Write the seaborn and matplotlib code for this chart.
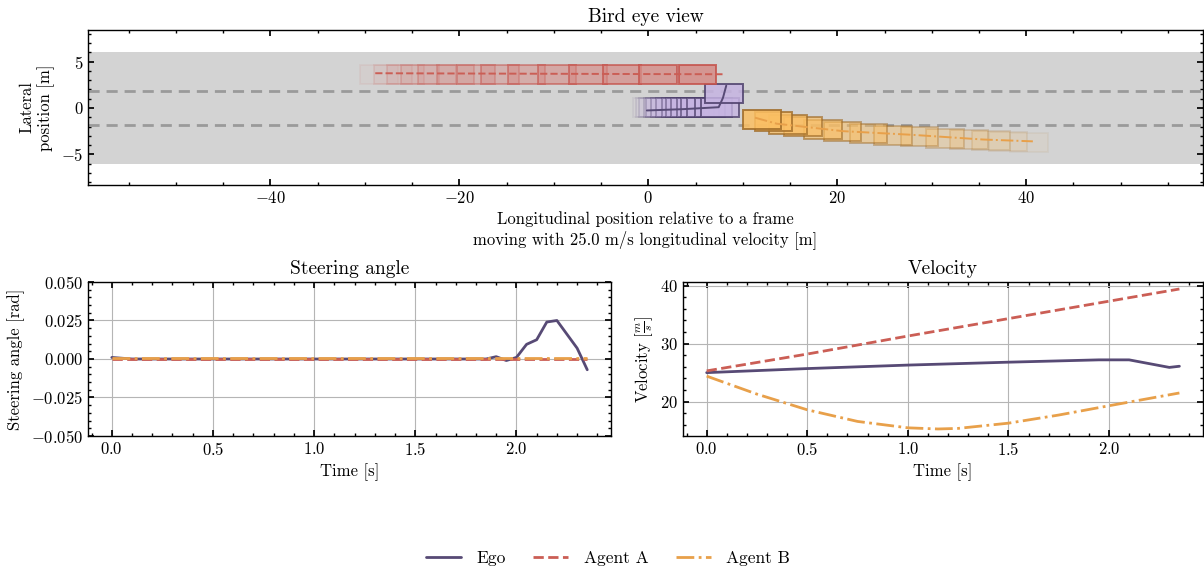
import numpy as np
import pandas as pd
import matplotlib
matplotlib.use("Agg")
import matplotlib.pyplot as plt
from matplotlib.patches import Rectangle
from matplotlib.lines import Line2D
import seaborn as sns

# ---- data ----
AGENTS = ["Ego", "Agent A", "Agent B"]
COLORS = {"Ego": "#574a75", "Agent A": "#cb5e55", "Agent B": "#e8a04a"}
FACES = {"Ego": "#c6b4e2", "Agent A": "#d58c87", "Agent B": "#fbbf63"}
EDGES = {"Ego": "#4e406c", "Agent A": "#c5524b", "Agent B": "#a06c28"}
STYLES = {"Ego": "-", "Agent A": "--", "Agent B": "-."}

# bird eye view: box centres (oldest -> newest) and trajectory lines
ego_box_x = [0.4, 0.7, 1.05, 1.5, 1.8, 2.3, 2.8, 3.4, 3.9, 4.4, 5.0, 5.5, 6.1, 6.9, 7.6, 8.0]
ego_box_y = [0.05, 0.05, 0.05, 0.05, 0.05, 0.05, 0.05, 0.05, 0.05, 0.05, 0.05, 0.05, 0.05, 0.05, 0.05, 1.55]
a_box_x = [-28.5, -27.0, -25.7, -24.2, -22.4, -20.4, -18.2, -15.7, -12.9, -9.7, -6.4, -2.8, 1.0, 5.2]
a_box_y = [3.6, 3.6, 3.6, 3.6, 3.6, 3.6, 3.6, 3.6, 3.6, 3.6, 3.6, 3.6, 3.6, 3.6]
b_box_x = [40.3, 38.1, 36.25, 33.95, 31.4, 28.7, 25.9, 23.3, 20.55, 18.45, 16.4, 14.75, 13.25, 12.05]
b_box_y = [-3.7, -3.6, -3.5, -3.4, -3.25, -3.1, -2.95, -2.75, -2.5, -2.3, -2.05, -1.8, -1.5, -1.25]

ego_path_x = [-0.15, 3.7, 7.45, 7.9, 8.25]
ego_path_y = [-0.27, -0.13, 0.08, 1.08, 2.4]
a_path_x = [-28.9, -20.0, -10.0, 0.0, 8.15]
a_path_y = [3.74, 3.71, 3.68, 3.65, 3.63]
b_path_x = [11.3, 13.6, 20.6, 28.0, 35.4, 40.7]
b_path_y = [-1.05, -1.7, -2.5, -2.9, -3.4, -3.6]

LANE_MARKS = [1.8, -1.8]
ROAD_EDGE = 6.0

# steering angle [rad]
ego_steer_t = [0.0, 0.1, 1.85, 1.9, 1.95, 2.0, 2.05, 2.1, 2.15, 2.2, 2.25, 2.3, 2.35]
ego_steer = [0.001, 0.0, 0.0, 0.0015, -0.001, 0.001, 0.0095, 0.0125, 0.024, 0.025, 0.016, 0.007, -0.007]
a_steer_t = [0.0, 2.35]
a_steer = [0.0, 0.0]
b_steer_t = [0.0, 2.35]
b_steer = [0.0006, 0.0006]

# velocity [m/s]
ego_vel_t = [0.0, 0.5, 1.0, 1.5, 1.95, 2.1, 2.3, 2.35]
ego_vel = [25.0, 25.7, 26.3, 26.8, 27.2, 27.2, 25.9, 26.1]
a_vel_t = [0.0, 0.5, 1.0, 1.5, 2.0, 2.35]
a_vel = [25.3, 28.2, 31.3, 34.3, 37.3, 39.4]
b_vel_t = [0.0, 0.25, 0.5, 0.75, 1.0, 1.15, 1.25, 1.5, 1.75, 2.0, 2.35]
b_vel = [24.4, 21.3, 18.6, 16.6, 15.5, 15.3, 15.4, 16.3, 17.7, 19.3, 21.5]

BOX_LEN, BOX_WID = 4.0, 2.05

sns.set_theme(style="ticks")
plt.rcParams.update({
    "font.family": "serif",
    "font.serif": ["cmr10", "DejaVu Serif"],
    "mathtext.fontset": "cm",
    "axes.formatter.use_mathtext": True,
    "font.size": 12,
    "axes.titlesize": 14,
    "axes.labelsize": 12,
    "xtick.labelsize": 12,
    "ytick.labelsize": 12,
    "legend.fontsize": 12.5,
    "xtick.direction": "in",
    "ytick.direction": "in",
    "xtick.top": True,
    "ytick.right": True,
    "xtick.minor.visible": True,
    "ytick.minor.visible": True,
    "xtick.major.size": 4,
    "ytick.major.size": 4,
    "xtick.minor.size": 2,
    "ytick.minor.size": 2,
    "axes.edgecolor": "black",
    "axes.linewidth": 1.0,
    "xtick.color": "black",
    "ytick.color": "black",
    "axes.labelcolor": "black",
    "text.color": "black",
})


def traj_df(xs, ys):
    return pd.DataFrame({"x": xs, "y": ys})


fig = plt.figure(figsize=(12.04, 5.72), dpi=100)
ax_top = fig.add_axes([0.0731, 0.6766, 0.926, 0.271])
ax_st = fig.add_axes([0.0731, 0.2378, 0.4344, 0.2692])
ax_v = fig.add_axes([0.5673, 0.2378, 0.4319, 0.2692])

# ---- bird eye view ----
ax_top.axhspan(-ROAD_EDGE, ROAD_EDGE, color="#d3d3d3", zorder=0, lw=0)
for ym in LANE_MARKS:
    ax_top.axhline(ym, color="#9a9a9a", ls=(0, (4, 2.5)), lw=2, zorder=1)

boxes = {"Ego": (ego_box_x, ego_box_y), "Agent A": (a_box_x, a_box_y), "Agent B": (b_box_x, b_box_y)}
for name, (bx, by) in boxes.items():
    alphas = np.linspace(0.1, 1.0, len(bx)) ** 1.1
    for x, y, a in zip(bx, by, alphas):
        ax_top.add_patch(Rectangle((x - BOX_LEN / 2, y - BOX_WID / 2), BOX_LEN, BOX_WID,
                                   facecolor=FACES[name], edgecolor=EDGES[name],
                                   lw=1.4, alpha=a * 0.85, zorder=2))

paths = {"Ego": (ego_path_x, ego_path_y), "Agent A": (a_path_x, a_path_y), "Agent B": (b_path_x, b_path_y)}
for name, (px, py) in paths.items():
    sns.lineplot(data=traj_df(px, py), x="x", y="y", sort=False, ax=ax_top,
                 color=COLORS[name], linestyle=STYLES[name], lw=1.4, zorder=3)

ax_top.set_xlim(-59.3, 58.7)
ax_top.set_ylim(-8.3, 8.4)
ax_top.set_xticks([-40, -20, 0, 20, 40])
ax_top.set_yticks([-5, 0, 5])
ax_top.set_title("Bird eye view", pad=6)
ax_top.set_xlabel("Longitudinal position relative to a frame\nmoving with 25.0 m/s longitudinal velocity [m]")
ax_top.set_ylabel("Lateral\nposition [m]")

# ---- steering angle and velocity ----
steer = {"Ego": (ego_steer_t, ego_steer), "Agent A": (a_steer_t, a_steer), "Agent B": (b_steer_t, b_steer)}
vel = {"Ego": (ego_vel_t, ego_vel), "Agent A": (a_vel_t, a_vel), "Agent B": (b_vel_t, b_vel)}

for ax, series in [(ax_st, steer), (ax_v, vel)]:
    for name in ["Agent A", "Ego", "Agent B"]:
        t, v = series[name]
        sns.lineplot(x=t, y=v, ax=ax, color=COLORS[name], linestyle=STYLES[name],
                     lw=2, zorder=3 if name != "Ego" else 2.5)
    ax.grid(True, which="major", color="#b5b5b5", lw=0.8)
    ax.set_xlabel("Time [s]")
    ax.set_xticks([0.0, 0.5, 1.0, 1.5, 2.0])

ax_st.set_ylim(-0.05, 0.05)
ax_st.set_yticks([-0.05, -0.025, 0.0, 0.025, 0.05])
ax_st.yaxis.set_major_formatter(matplotlib.ticker.FuncFormatter(lambda v, _: f"${v:.3f}$"))
ax_st.set_title("Steering angle", pad=6)
ax_st.set_ylabel("Steering angle [rad]")

ax_v.set_yticks([20, 30, 40])
ax_v.set_title("Velocity", pad=6)
ax_v.set_ylabel(r"Velocity $[\frac{m}{s}]$")

handles = [Line2D([], [], color=COLORS[n], ls=STYLES[n], lw=2) for n in AGENTS]
fig.legend(handles, AGENTS, loc="lower center", bbox_to_anchor=(0.505, -0.017), ncol=3,
           frameon=False, handlelength=2.0, handletextpad=0.9, columnspacing=1.6)

fig.savefig("out.png", dpi=100)
